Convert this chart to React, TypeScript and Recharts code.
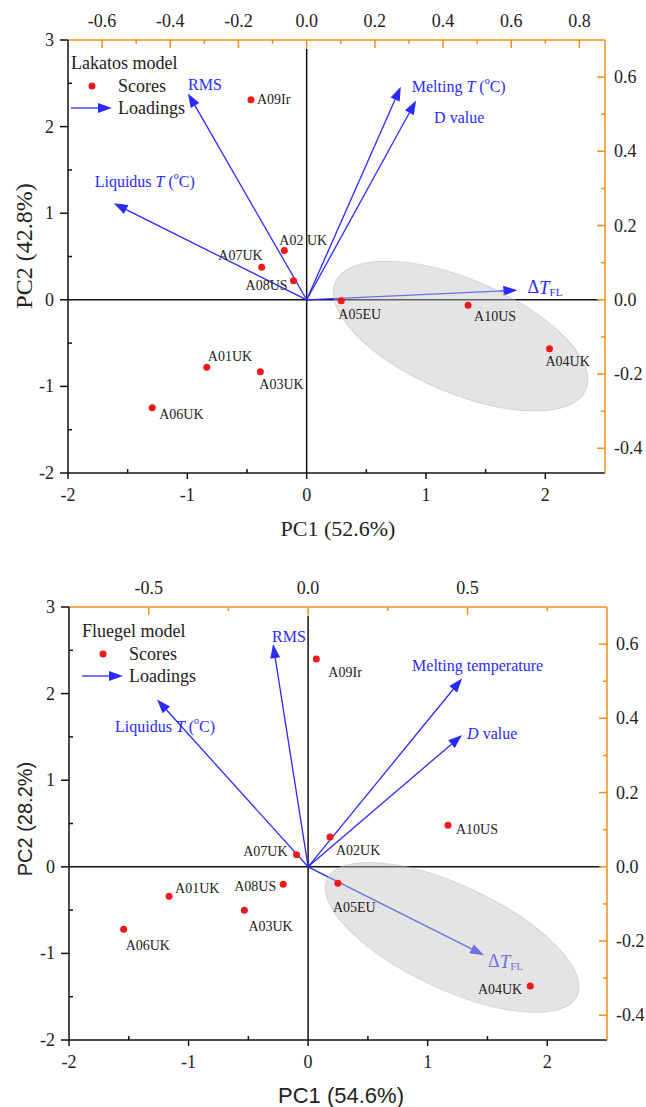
import React from 'react';
import { ScatterChart, Scatter, XAxis, YAxis, ReferenceLine, Legend, Label } from 'recharts';

// ---- data: Lakatos model ----
const lakatosNames = ['A01UK', 'A02 UK', 'A03UK', 'A04UK', 'A05EU', 'A06UK', 'A07UK', 'A08US', 'A09Ir', 'A10US'];
const lakatosPC1 = [-0.837, -0.187, -0.388, 2.035, 0.29, -1.294, -0.377, -0.11, -0.467, 1.353];
const lakatosPC2 = [-0.78, 0.57, -0.83, -0.565, -0.01, -1.246, 0.377, 0.22, 2.31, -0.064];
const lakatosLoadNames = ['RMS', 'Liquidus', 'Melting', 'Dvalue', 'dTFL'];
const lakatosLoadX = [-0.348, -0.566, 0.276, 0.321, 0.618];
const lakatosLoadY = [0.556, 0.26, 0.574, 0.537, 0.026];
// major axis end points of the grey ellipse (PC1, PC2) and minor/major ratio
const lakatosEllipse = [0.24, 0.2, 2.34, -1.04];
const lakatosEllipseRatio = 0.416;

// ---- data: Fluegel model ----
const fluegelNames = ['A01UK', 'A02UK', 'A03UK', 'A04UK', 'A05EU', 'A06UK', 'A07UK', 'A08US', 'A09Ir', 'A10US'];
const fluegelPC1 = [-1.163, 0.183, -0.533, 1.858, 0.249, -1.543, -0.097, -0.208, 0.069, 1.17];
const fluegelPC2 = [-0.34, 0.344, -0.502, -1.375, -0.189, -0.722, 0.139, -0.201, 2.4, 0.479];
const fluegelLoadNames = ['RMS', 'Liquidus', 'Melting', 'Dvalue', 'dTFL'];
const fluegelLoadX = [-0.11, -0.474, 0.483, 0.483, 0.552];
const fluegelLoadY = [0.6, 0.451, 0.5075, 0.355, -0.238];
const fluegelEllipse = [0.16, -0.14, 2.25, -1.49];
const fluegelEllipseRatio = 0.376;

// ---- ticks ----
const pcXTicks = [-2, -1.5, -1, -0.5, 0, 0.5, 1, 1.5, 2];
const pcXMajor = [-2, -1, 0, 1, 2];
const pcYTicks = [-2, -1.5, -1, -0.5, 0, 0.5, 1, 1.5, 2, 2.5, 3];
const pcYMajor = [-2, -1, 0, 1, 2, 3];
const loadYTicks = [-0.4, -0.3, -0.2, -0.1, 0, 0.1, 0.2, 0.3, 0.4, 0.5, 0.6];
const loadYMajor = [-0.4, -0.2, 0, 0.2, 0.4, 0.6];
const lakatosTopTicks = [-0.6, -0.5, -0.4, -0.3, -0.2, -0.1, 0, 0.1, 0.2, 0.3, 0.4, 0.5, 0.6, 0.7, 0.8];
const lakatosTopMajor = [-0.6, -0.4, -0.2, 0, 0.2, 0.4, 0.6, 0.8];
const fluegelTopTicks = [-0.5, -0.25, 0, 0.25, 0.5, 0.75];
const fluegelTopMajor = [-0.5, 0, 0.5];

const RED = '#f01818';
const BLUE = '#2a2aff';
const ORANGE = '#ff8c1a';
const SERIF = '"Liberation Serif", "Times New Roman", serif';
const SANS = '"Liberation Sans", Arial, sans-serif';

const isMajor = (v: number, majors: number[]) => majors.some((m) => Math.abs(m - v) < 1e-9);

const makeTick = (side: string, majors: number[], fmt: (v: number) => string) => (props: any) => {
  const { x, y, payload } = props;
  const v = payload.value as number;
  const major = isMajor(v, majors);
  const color = side === 'top' || side === 'right' ? ORANGE : '#111';
  const len = major ? 8 : 4;
  let line: any = null;
  let label: any = null;
  const tp = { fontFamily: SERIF, fontSize: 18, fill: '#222', dominantBaseline: 'central' as const };
  if (side === 'bottom') {
    line = major ? <line x1={x} y1={y} x2={x} y2={y + 6} stroke={color} strokeWidth={1.5} /> : <line x1={x} y1={y} x2={x} y2={y - len} stroke={color} strokeWidth={1.5} />;
    if (major) label = <text x={x} y={y + 22} textAnchor="middle" {...tp}>{fmt(v)}</text>;
  } else if (side === 'left') {
    line = major ? <line x1={x - len} y1={y} x2={x} y2={y} stroke={color} strokeWidth={1.5} /> : <line x1={x} y1={y} x2={x + len} y2={y} stroke={color} strokeWidth={1.5} />;
    if (major) label = <text x={x - 14} y={y} textAnchor="end" {...tp}>{fmt(v)}</text>;
  } else if (side === 'top') {
    line = <line x1={x} y1={y} x2={x} y2={y + len} stroke={color} strokeWidth={1.5} />;
    if (major) label = <text x={x} y={y - 19} textAnchor="middle" {...tp}>{fmt(v)}</text>;
  } else {
    line = <line x1={x - len} y1={y} x2={x} y2={y} stroke={color} strokeWidth={1.5} />;
    if (major) label = <text x={x + 9} y={y} textAnchor="start" {...tp}>{fmt(v)}</text>;
  }
  return (
    <g>
      {line}
      {label}
    </g>
  );
};

// label offsets of score points, in pixels from the dot
const lakatosPointLabels: Record<string, [number, number, string]> = {
  A09Ir: [6, 0, 'start'],
  'A02 UK': [-5, -10, 'start'],
  A07UK: [1, -12, 'end'],
  A08US: [-6, 5, 'end'],
  A05EU: [-3, 14, 'start'],
  A10US: [6, 11, 'start'],
  A04UK: [-4, 13, 'start'],
  A01UK: [1, -11, 'start'],
  A03UK: [-1, 13, 'start'],
  A06UK: [7, 7, 'start'],
};
const fluegelPointLabels: Record<string, [number, number, string]> = {
  A09Ir: [12, 14, 'start'],
  A10US: [8, 4, 'start'],
  A02UK: [6, 13, 'start'],
  A07UK: [-9, -3, 'end'],
  A08US: [-7, 2, 'end'],
  A05EU: [-5, 24, 'start'],
  A01UK: [6, -8, 'start'],
  A03UK: [4, 16, 'start'],
  A06UK: [2, 16, 'start'],
  A04UK: [-8, 4, 'end'],
};

const makePoint = (labels: Record<string, [number, number, string]>) => (props: any) => {
  const { cx, cy, payload } = props;
  const [dx, dy, anchor] = labels[payload.name] || [6, 0, 'start'];
  return (
    <g>
      <circle cx={cx} cy={cy} r={3.5} fill={RED} />
      <text x={cx + dx} y={cy + dy} textAnchor={anchor as any} dominantBaseline="central" fontFamily={SERIF} fontSize={14} fill="#222">
        {payload.name}
      </text>
    </g>
  );
};

const sup = (key: string) => [
  <tspan key={key + 'a'} dy={-6} fontSize={10}>o</tspan>,
  <tspan key={key + 'b'} dy={6}>C)</tspan>,
];

const loadingText = (model: string, name: string) => {
  if (name === 'RMS') return <tspan>RMS</tspan>;
  if (name === 'Liquidus')
    return [<tspan key="l">Liquidus </tspan>, <tspan key="t" fontStyle="italic">T</tspan>, <tspan key="p"> (</tspan>, ...sup('q')];
  if (name === 'Melting')
    return model === 'lakatos'
      ? [<tspan key="m">Melting </tspan>, <tspan key="t" fontStyle="italic">T</tspan>, <tspan key="p"> (</tspan>, ...sup('q')]
      : <tspan>Melting temperature</tspan>;
  if (name === 'Dvalue')
    return model === 'lakatos' ? <tspan>D value</tspan> : [<tspan key="d" fontStyle="italic">D</tspan>, <tspan key="v"> value</tspan>];
  return [
    <tspan key="a" fontSize={18}>Δ</tspan>,
    <tspan key="t" fontSize={19} fontStyle="italic">T</tspan>,
    <tspan key="f" fontSize={11} dy={5}>FL</tspan>,
  ];
};

// label offsets of loading arrows, in pixels from the arrow tip
const lakatosLoadLabels: Record<string, [number, number]> = {
  RMS: [0, -9],
  Liquidus: [-19, -22],
  Melting: [11, -1],
  Dvalue: [18, 17],
  dTFL: [10, -3],
};
const fluegelLoadLabels: Record<string, [number, number]> = {
  RMS: [-1, -8],
  Liquidus: [-42, 27],
  Melting: [-50, -13],
  Dvalue: [5, -2],
  dTFL: [4, 6],
};

const arrowHead = (x1: number, y1: number, x2: number, y2: number) => {
  const a = Math.atan2(y2 - y1, x2 - x1);
  const L = 14;
  const W = 5;
  const bx = x2 - L * Math.cos(a);
  const by = y2 - L * Math.sin(a);
  return {
    bx,
    by,
    pts: `${x2},${y2} ${bx - W * Math.sin(a)},${by + W * Math.cos(a)} ${bx + W * Math.sin(a)},${by - W * Math.cos(a)}`,
  };
};

const makeArrow = (model: string, name: string, off: [number, number]) => (p: any) => {
  const { x1, y1, x2, y2 } = p;
  const h = arrowHead(x1, y1, x2, y2);
  return (
    <g>
      <line x1={x1} y1={y1} x2={h.bx} y2={h.by} stroke={BLUE} strokeWidth={1.3} />
      <polygon points={h.pts} fill={BLUE} />
      <text x={x2 + off[0]} y={y2 + off[1]} fontFamily={SERIF} fontSize={16} fill={BLUE} dominantBaseline="central">
        {loadingText(model, name)}
      </text>
    </g>
  );
};

const makeEllipse = (ratio: number) => (p: any) => {
  const { x1, y1, x2, y2 } = p;
  const cx = (x1 + x2) / 2;
  const cy = (y1 + y2) / 2;
  const rx = Math.hypot(x2 - x1, y2 - y1) / 2;
  const ang = (Math.atan2(y2 - y1, x2 - x1) * 180) / Math.PI;
  return (
    <ellipse
      cx={cx}
      cy={cy}
      rx={rx}
      ry={rx * ratio}
      transform={`rotate(${ang} ${cx} ${cy})`}
      fill="#c4c4c4"
      fillOpacity={0.45}
      stroke="#b8b8b8"
      strokeOpacity={0.5}
      strokeWidth={1}
    />
  );
};

const LegendBox = ({ title }: { title: string }) => {
  const h = arrowHead(0, 57, 41, 57);
  const tp = { fontFamily: SERIF, fontSize: 18, fill: '#222', dominantBaseline: 'central' as const };
  return (
    <svg width={150} height={70} style={{ display: 'block', overflow: 'visible' }}>
      <text x={0} y={12} {...tp}>{title}</text>
      <circle cx={21} cy={35} r={3.5} fill={RED} />
      <text x={47} y={35} {...tp}>Scores</text>
      <line x1={0} y1={57} x2={h.bx} y2={h.by} stroke={BLUE} strokeWidth={1.3} />
      <polygon points={h.pts} fill={BLUE} />
      <text x={47} y={57} {...tp}>Loadings</text>
    </svg>
  );
};

interface BiplotProps {
  model: string;
  title: string;
  names: string[];
  pc1: number[];
  pc2: number[];
  loadNames: string[];
  loadX: number[];
  loadY: number[];
  ellipse: number[];
  ellipseRatio: number;
  pointLabels: Record<string, [number, number, string]>;
  loadLabels: Record<string, [number, number]>;
  topDomain: [number, number];
  topTicks: number[];
  topMajor: number[];
  xTitle: string;
  yTitle: string;
  titleFont: string;
  height: number;
  margin: { top: number; right: number; bottom: number; left: number };
  legendPos: { left: number; top: number };
  xTitlePos: [number, number];
  yTitlePos: [number, number];
  yTitleSize: number;
}

function Biplot(p: BiplotProps) {
  const scores = p.names.map((n, i) => ({ name: n, x: p.pc1[i], y: p.pc2[i] }));
  const loads = p.loadNames.map((n, i) => ({ name: n, lx: p.loadX[i], ly: p.loadY[i] }));
  const fmt1 = (v: number) => v.toFixed(1);
  return (
    <ScatterChart width={646} height={p.height} margin={p.margin}>
      <XAxis
        xAxisId="pc"
        dataKey="x"
        type="number"
        domain={[-2, 2.5]}
        allowDataOverflow
        ticks={pcXTicks}
        interval={0}
        tickSize={0}
        tickMargin={0}
        tickLine={false}
        height={30}
        axisLine={{ stroke: '#111', strokeWidth: 1.5 }}
        tick={makeTick('bottom', pcXMajor, (v) => String(v))}
      >
        <Label
          content={() => (
            <text x={p.xTitlePos[0]} y={p.xTitlePos[1]} textAnchor="middle" dominantBaseline="central" fontFamily={p.titleFont} fontSize={22} fill="#222">
              {p.xTitle}
            </text>
          )}
        />
      </XAxis>
      <XAxis
        xAxisId="load"
        dataKey="lx"
        type="number"
        orientation="top"
        domain={p.topDomain}
        allowDataOverflow
        ticks={p.topTicks}
        interval={0}
        tickSize={0}
        tickMargin={0}
        tickLine={false}
        height={30}
        axisLine={{ stroke: ORANGE, strokeWidth: 1.5 }}
        tick={makeTick('top', p.topMajor, fmt1)}
      />
      <YAxis
        yAxisId="pc"
        dataKey="y"
        type="number"
        domain={[-2, 3]}
        allowDataOverflow
        ticks={pcYTicks}
        interval={0}
        tickSize={0}
        tickMargin={0}
        tickLine={false}
        width={40}
        axisLine={{ stroke: '#111', strokeWidth: 1.5 }}
        tick={makeTick('left', pcYMajor, (v) => String(v))}
      >
        <Label
          content={() => (
            <text
              x={p.yTitlePos[0]}
              y={p.yTitlePos[1]}
              textAnchor="middle"
              dominantBaseline="central"
              fontFamily={p.titleFont}
              fontSize={p.yTitleSize}
              fill="#222"
              transform={`rotate(-90 ${p.yTitlePos[0]} ${p.yTitlePos[1]})`}
            >
              {p.yTitle}
            </text>
          )}
        />
      </YAxis>
      <YAxis
        yAxisId="load"
        dataKey="ly"
        type="number"
        orientation="right"
        domain={[-0.7 * (2 / 3), 0.7]}
        allowDataOverflow
        ticks={loadYTicks}
        interval={0}
        tickSize={0}
        tickMargin={0}
        tickLine={false}
        width={30}
        axisLine={{ stroke: ORANGE, strokeWidth: 1.5 }}
        tick={makeTick('right', loadYMajor, fmt1)}
      />
      <ReferenceLine xAxisId="pc" yAxisId="pc" segment={[{ x: -2, y: 0 }, { x: 2.45, y: 0 }]} stroke="#111" strokeWidth={1.5} />
      <ReferenceLine xAxisId="pc" yAxisId="pc" segment={[{ x: 0, y: -2 }, { x: 0, y: 2.9 }]} stroke="#111" strokeWidth={1.5} />
      {/* loading tips, registered on the secondary axes (drawn by the arrows below) */}
      <Scatter xAxisId="load" yAxisId="load" data={loads} isAnimationActive={false} shape={() => <g />} />
      {loads.map((l) => (
        <ReferenceLine
          key={l.name}
          xAxisId="load"
          yAxisId="load"
          segment={[{ x: 0, y: 0 }, { x: l.lx, y: l.ly }]}
          shape={makeArrow(p.model, l.name, p.loadLabels[l.name])}
        />
      ))}
      <Scatter xAxisId="pc" yAxisId="pc" data={scores} isAnimationActive={false} shape={makePoint(p.pointLabels)} />
      <ReferenceLine
        xAxisId="pc"
        yAxisId="pc"
        segment={[{ x: p.ellipse[0], y: p.ellipse[1] }, { x: p.ellipse[2], y: p.ellipse[3] }]}
        shape={makeEllipse(p.ellipseRatio)}
      />
      <Legend
        layout="vertical"
        align="center"
        verticalAlign="middle"
        wrapperStyle={{ left: p.legendPos.left, top: p.legendPos.top, width: 160 }}
        content={() => <LegendBox title={p.title} />}
      />
    </ScatterChart>
  );
}

export default function App() {
  return (
    <div style={{ position: 'absolute', left: 0, top: 0, width: 646, height: 1107, background: '#fff' }}>
      <div style={{ position: 'absolute', left: 0, top: 0 }}>
        <Biplot
          model="lakatos"
          title="Lakatos model"
          names={lakatosNames}
          pc1={lakatosPC1}
          pc2={lakatosPC2}
          loadNames={lakatosLoadNames}
          loadX={lakatosLoadX}
          loadY={lakatosLoadY}
          ellipse={lakatosEllipse}
          ellipseRatio={lakatosEllipseRatio}
          pointLabels={lakatosPointLabels}
          loadLabels={lakatosLoadLabels}
          topDomain={[-0.7, 0.875]}
          topTicks={lakatosTopTicks}
          topMajor={lakatosTopMajor}
          xTitle="PC1 (52.6%)"
          yTitle="PC2 (42.8%)"
          titleFont={SERIF}
          height={560}
          margin={{ top: 10, right: 11, bottom: 57, left: 28 }}
          legendPos={{ left: 71, top: 51 }}
          xTitlePos={[338, 528]}
          yTitlePos={[24, 246]}
          yTitleSize={24}
        />
      </div>
      <div style={{ position: 'absolute', left: 0, top: 560 }}>
        <Biplot
          model="fluegel"
          title="Fluegel model"
          names={fluegelNames}
          pc1={fluegelPC1}
          pc2={fluegelPC2}
          loadNames={fluegelLoadNames}
          loadX={fluegelLoadX}
          loadY={fluegelLoadY}
          ellipse={fluegelEllipse}
          ellipseRatio={fluegelEllipseRatio}
          pointLabels={fluegelPointLabels}
          loadLabels={fluegelLoadLabels}
          topDomain={[-0.75, 0.9375]}
          topTicks={fluegelTopTicks}
          topMajor={fluegelTopMajor}
          xTitle="PC1 (54.6%)"
          yTitle="PC2 (28.2%)"
          titleFont={SANS}
          height={547}
          margin={{ top: 17, right: 9, bottom: 37, left: 29 }}
          legendPos={{ left: 82, top: 59 }}
          xTitlePos={[341, 535]}
          yTitlePos={[25, 259]}
          yTitleSize={20}
        />
      </div>
    </div>
  );
}
